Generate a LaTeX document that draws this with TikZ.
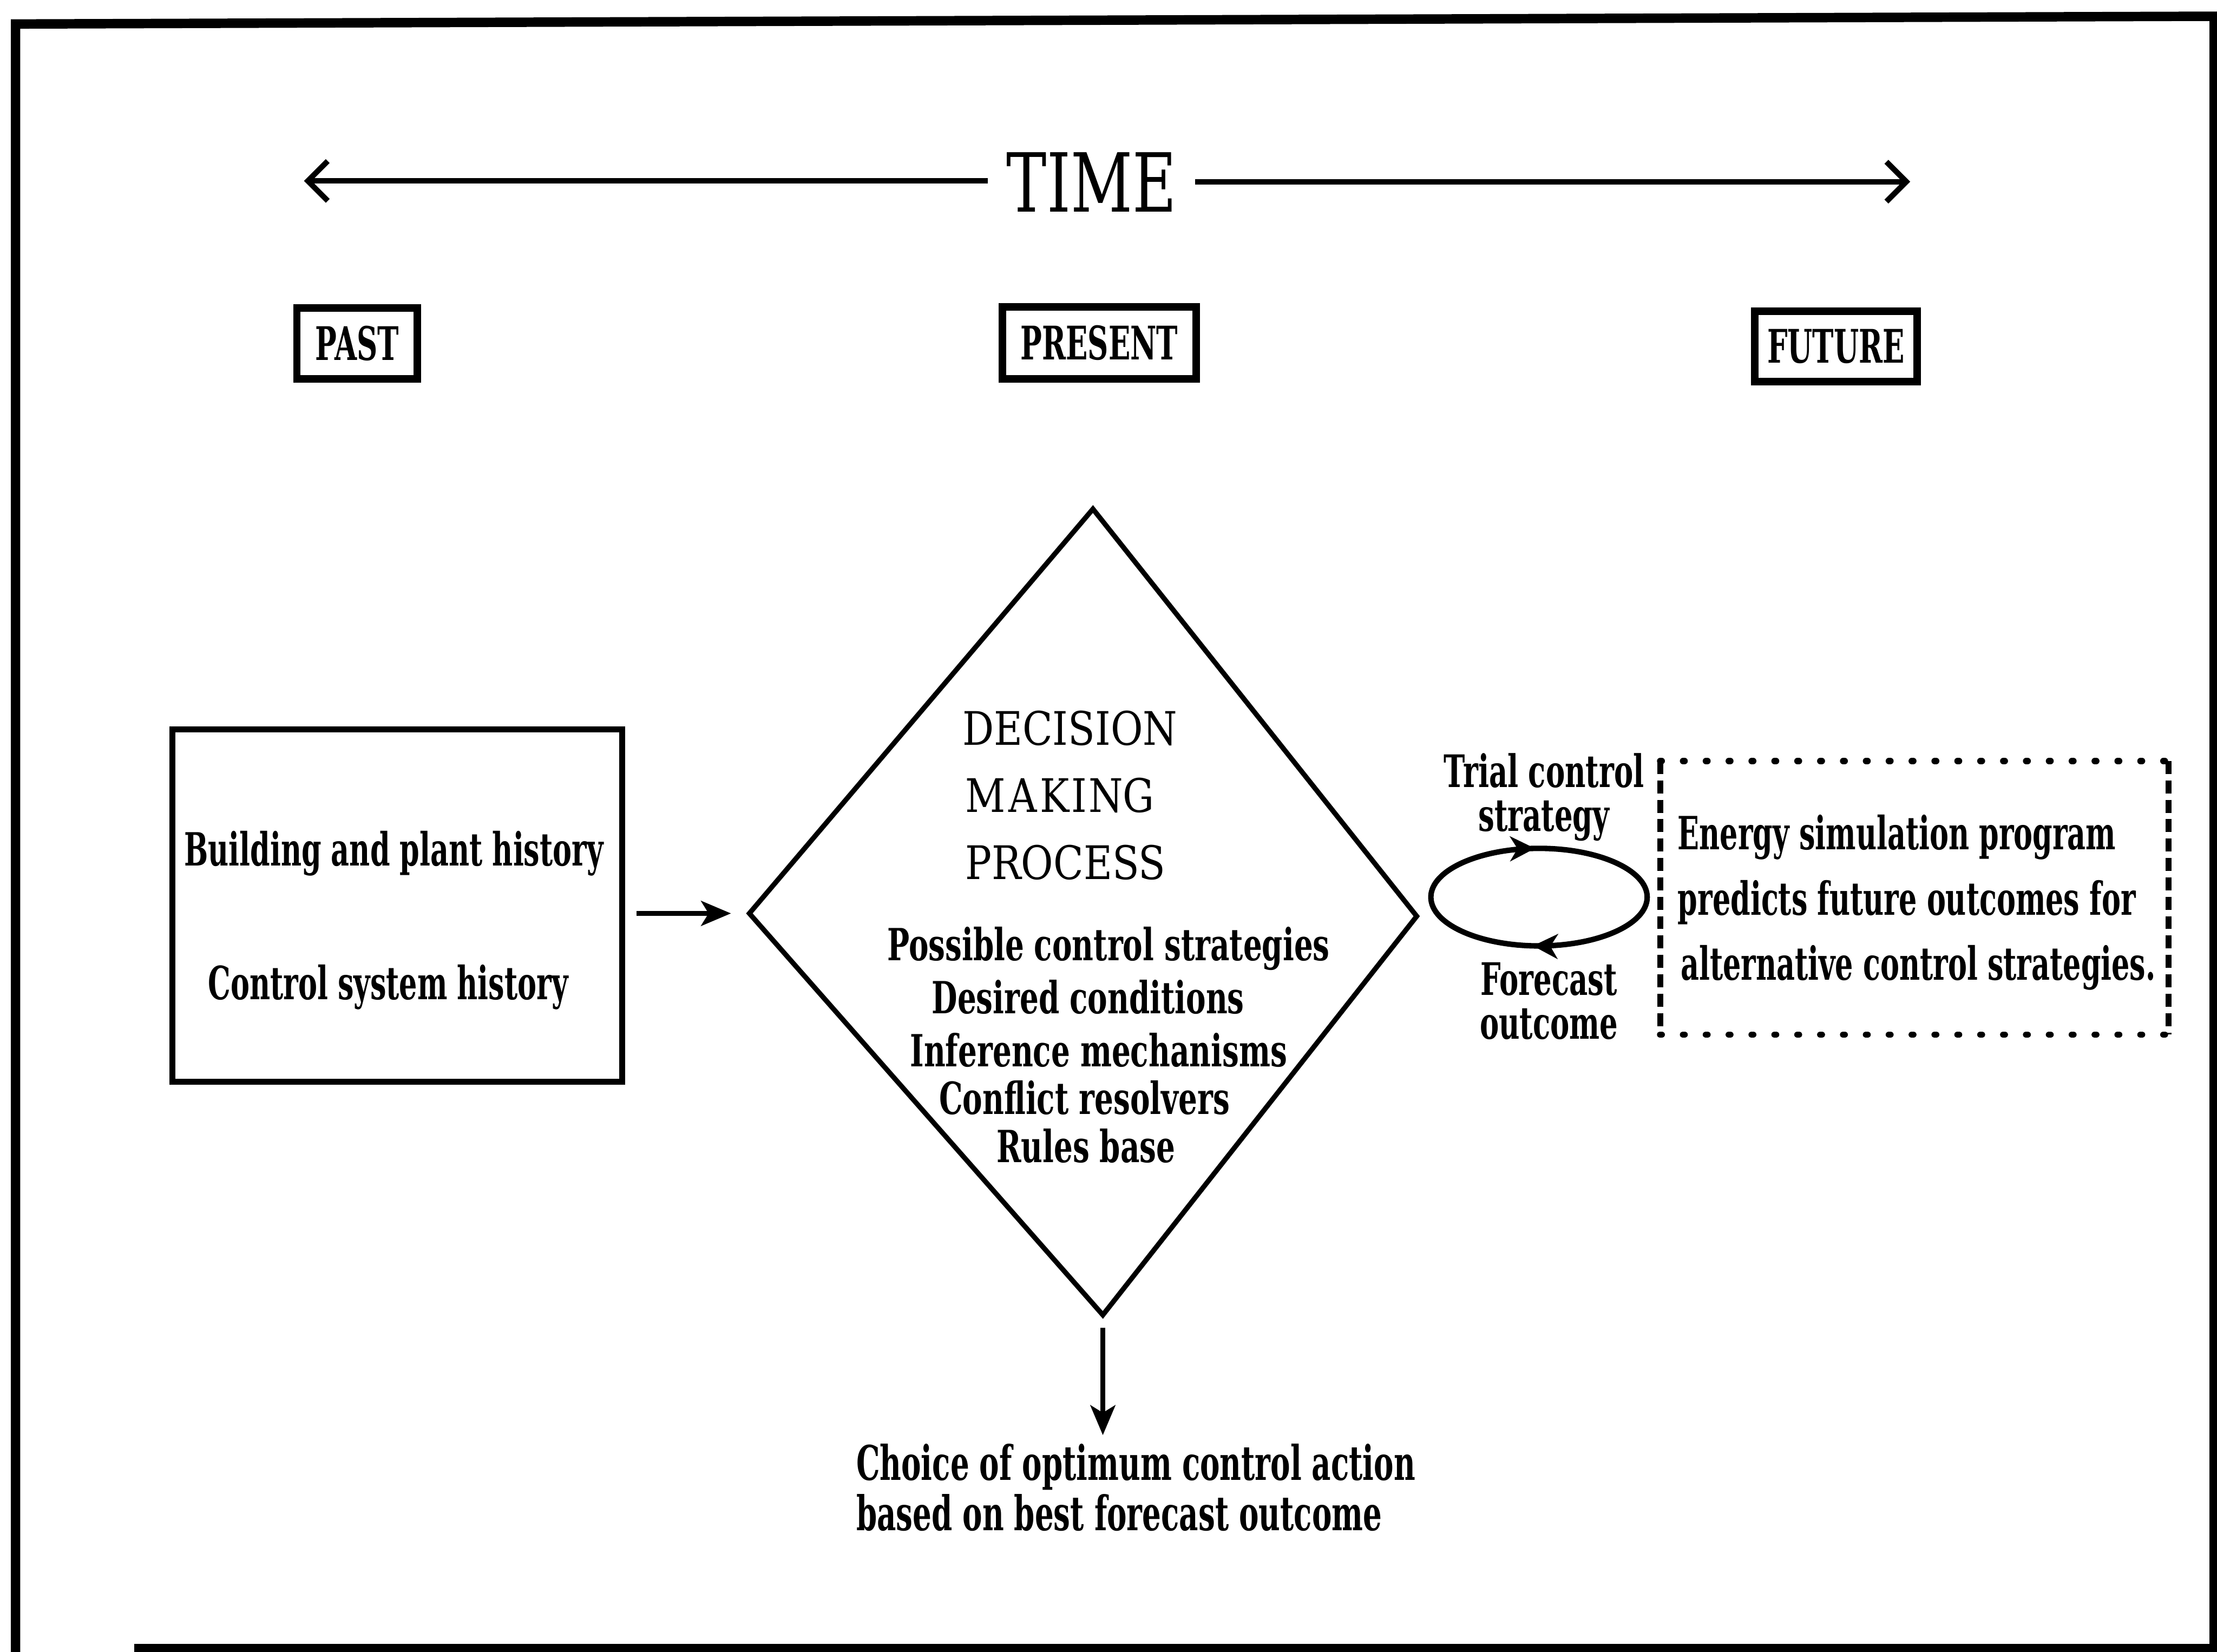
\documentclass[tikz,border=0pt]{standalone}
\usepackage{fontspec}
\setmainfont{DejaVu Serif}
\newfontfamily\condfont{DejaVu Serif}[FakeStretch=0.62]
\newfontfamily\loopfont{DejaVu Serif}[FakeStretch=0.64]
\newfontfamily\listfont{DejaVu Serif}[FakeStretch=0.67]
\newfontfamily\headfont{DejaVu Serif}[FakeStretch=0.85]
\newfontfamily\timefont{DejaVu Serif}[FakeStretch=0.74]
\newcommand\tightlines{\lineskiplimit -20pt\relax}
\usetikzlibrary{arrows.meta,decorations.markings}

\begin{document}
\begin{tikzpicture}[x=0.01cm,y=-0.01cm,
  frame/.style={line width=1.9pt},
  timeline/.style={line width=1.1pt,-{Straight Barb[length=4pt,width=8pt]}},
  arr/.style={line width=1pt,-{Stealth[length=6pt,width=5pt,inset=1.5pt]}},
  tbox/.style={draw,line width=1.5pt,inner sep=0pt,
    font=\condfont\bfseries\fontsize{9.3}{10}\selectfont},
  hbox/.style={draw,line width=1.2pt,inner sep=0pt},
  lbl/.style={inner sep=0pt,anchor=base,
    font=\condfont\bfseries\fontsize{9.2}{10}\selectfont},
  lblw/.style={lbl,anchor=base west},
  choicetxt/.style={inner sep=0pt,anchor=base west,
    font=\condfont\bfseries\fontsize{9.6}{10}\selectfont},
  listtxt/.style={inner sep=0pt,anchor=base,
    font=\listfont\bfseries\fontsize{8.9}{10}\selectfont},
  headtxt/.style={inner sep=0pt,anchor=base west,
    font=\headfont\fontsize{9.3}{11}\selectfont},
  looptxt/.style={inner sep=0pt,anchor=north,align=center,
    font=\loopfont\bfseries\fontsize{9}{8.8}\selectfont\tightlines},
  dotline/.style={line width=1.3pt,line cap=round,dash pattern=on 0.3pt off 4.3pt},
  dashline/.style={line width=1.2pt,dash pattern=on 2.6pt off 1.3pt},
]
\useasboundingbox (0,0) rectangle (1568,1168);

% outer frame
\draw[frame] (11,1175) -- (11,17) -- (1566,11.5) -- (1566,1175);
\draw[frame] (95,1166) -- (1575,1166);

% time axis
\node[inner ysep=0pt,inner xsep=0.125cm,anchor=base,
  font=\timefont\fontsize{16.4}{18}\selectfont] (time) at (772,150) {TIME};
\coordinate (tl) at (215,128);
\coordinate (tr) at (1351,128.5);
\draw[timeline] (time.west |- tl) -- (tl);
\draw[timeline] (time.east |- tr) -- (tr);

% past / present / future
\node[tbox,minimum width=0.85cm,minimum height=0.5cm] (past) at (252.5,243) {PAST};
\node[tbox,minimum width=1.37cm,minimum height=0.51cm] (present) at (777.5,242.5) {PRESENT};
\node[tbox,minimum width=1.15cm,minimum height=0.5cm] (future) at (1298.5,245) {FUTURE};

% history box
\node[hbox,minimum width=3.18cm,minimum height=2.49cm] (hist) at (281,640.5) {};
\node[lbl] (h1) at (278.5,612.5) {Building and plant history};
\node[lbl] (h2) at (274.5,707) {Control system history};

% decision diamond
\coordinate (dt) at (773,360);
\coordinate (dr) at (1002,648);
\coordinate (db) at (780,930);
\coordinate (dl) at (530,646);
\draw[line width=1pt,line join=miter] (dt) -- (dr) -- (db) -- (dl) -- cycle;
\node[headtxt] (d1) at (680,527) {DECISION};
\node[headtxt] (d2) at (682,574.5) {M\kern0.6pt A\kern0.6pt K\kern0.4pt I\kern0.4pt NG};
\node[headtxt] (d3) at (682,622) {PROCESS};
\node[listtxt] (l1) at (784,679.5) {Possible control strategies};
\node[listtxt] (l2) at (769.5,717) {Desired conditions};
\node[listtxt] (l3) at (777,754.5) {Inference mechanisms};
\node[listtxt] (l4) at (767,788) {Conflict resolvers};
\node[listtxt] (l5) at (768,822) {Rules base};

\draw[arr,shorten <=0.08cm,shorten >=0.13cm] (hist.east |- dl) -- (dl);

% outcome
\coordinate (dn) at (780,1015);
\draw[arr] ([yshift=-0.09cm]db) -- (dn);
\node[choicetxt] (c1) at (605,1047) {Choice of optimum control action};
\node[choicetxt] (c2) at (605,1082.5) {based on best forecast outcome};

% trial loop
\node[minimum width=1.53cm,minimum height=0.69cm,inner sep=0pt] (loop) at (1088.5,634.5) {};
\draw[line width=1.1pt,postaction={decorate},
  decoration={markings,
    mark=at position 0.262 with {\arrow{Stealth[length=5pt,width=5pt,inset=1.5pt]}},
    mark=at position 0.742 with {\arrow{Stealth[length=5pt,width=5pt,inset=1.5pt]}}}]
  (loop.center) ellipse [x radius=76.5, y radius=34.5];
\node[looptxt] (trial) at (1092,532) {Trial control\\strategy};
\node[looptxt] (fcast) at (1095.5,680) {Forecast\\outcome};

% simulation box
\node[minimum width=3.58cm,minimum height=1.92cm,inner sep=0pt] (sim) at (1354,635) {};
\draw[dotline] (sim.north west) -- (sim.north east);
\draw[dotline] (sim.south west) -- (sim.south east);
\draw[dashline] (sim.north west) -- (sim.south west);
\draw[dashline] (sim.north east) -- (sim.south east);
\node[lblw] (s1) at (1186,600.7) {Energy simulation program};
\node[lblw] (s2) at (1186,647) {predicts future outcomes for};
\node[lblw] (s3) at (1188,693) {alternative control strategies.};
\end{tikzpicture}
\end{document}
